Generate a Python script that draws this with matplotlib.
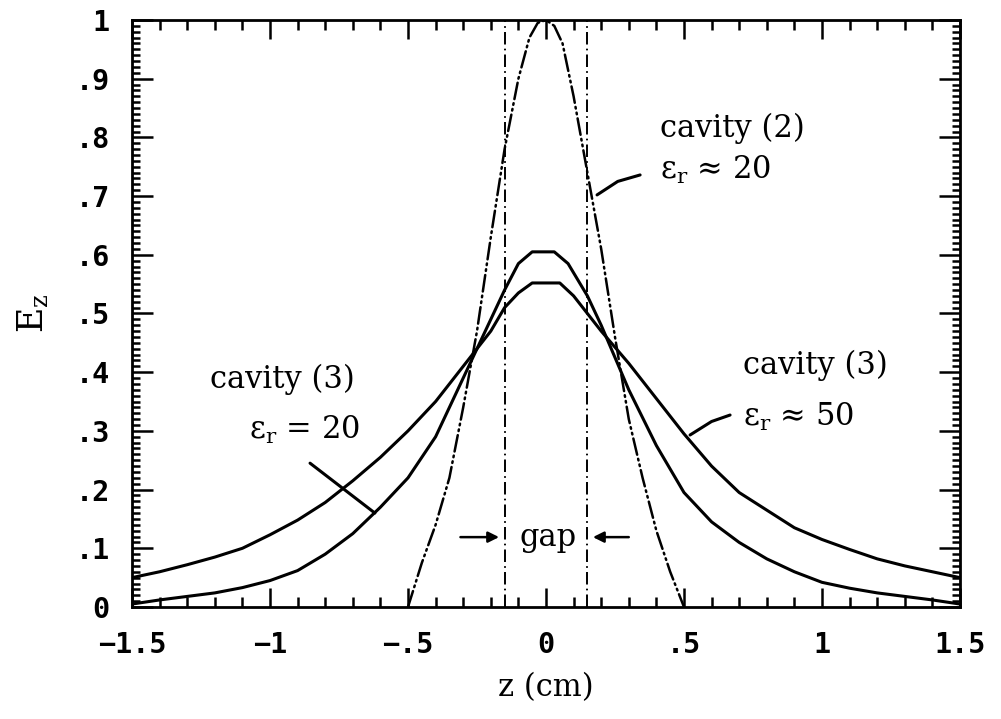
import numpy as np
import matplotlib
matplotlib.use("Agg")
import matplotlib.pyplot as plt
from matplotlib.ticker import MultipleLocator

# E_z along the axis for the three cavity geometries
z_cav3_er20 = [-1.5, -1.4, -1.3, -1.2, -1.1, -1.0, -0.9, -0.8, -0.7, -0.6, -0.5, -0.4, -0.3,
               -0.2, -0.15, -0.1, -0.05, 0.03, 0.08, 0.15, 0.2, 0.3, 0.4, 0.5, 0.6, 0.7,
               0.8, 0.9, 1.0, 1.1, 1.2, 1.3, 1.4, 1.5]
ez_cav3_er20 = [0.005, 0.012, 0.018, 0.024, 0.033, 0.045, 0.062, 0.09, 0.125, 0.17, 0.22,
                0.29, 0.39, 0.49, 0.54, 0.585, 0.605, 0.605, 0.585, 0.53, 0.48, 0.37, 0.275,
                0.195, 0.145, 0.11, 0.082, 0.06, 0.042, 0.032, 0.024, 0.018, 0.012, 0.005]

z_cav3_er50 = [-1.5, -1.4, -1.3, -1.2, -1.1, -1.0, -0.9, -0.8, -0.7, -0.6, -0.5, -0.4, -0.3,
               -0.2, -0.15, -0.1, -0.05, 0.05, 0.1, 0.15, 0.2, 0.3, 0.4, 0.5, 0.6, 0.7,
               0.8, 0.9, 1.0, 1.1, 1.2, 1.3, 1.4, 1.5]
ez_cav3_er50 = [0.05, 0.06, 0.072, 0.085, 0.1, 0.123, 0.148, 0.178, 0.215, 0.255, 0.3, 0.35,
                0.41, 0.47, 0.51, 0.535, 0.552, 0.552, 0.53, 0.5, 0.47, 0.415, 0.355, 0.295,
                0.24, 0.195, 0.165, 0.135, 0.115, 0.098, 0.082, 0.07, 0.06, 0.05]

z_cav2_er20 = [-0.5, -0.45, -0.4, -0.35, -0.3, -0.25, -0.2, -0.15, -0.1, -0.06, -0.03, 0.0,
               0.03, 0.06, 0.1, 0.15, 0.2, 0.25, 0.3, 0.35, 0.4, 0.45, 0.5]
ez_cav2_er20 = [0.0, 0.075, 0.14, 0.22, 0.34, 0.47, 0.63, 0.78, 0.9, 0.97, 0.995, 1.0,
                0.99, 0.96, 0.87, 0.74, 0.61, 0.46, 0.32, 0.22, 0.13, 0.06, 0.0]

gap_edges = [-0.15, 0.15]

x_ticks = [-1.5, -1.0, -0.5, 0.0, 0.5, 1.0, 1.5]
x_tick_labels = ["\u22121.5", "\u22121", "\u2212.5", "0", ".5", "1", "1.5"]
y_ticks = [0.0, 0.1, 0.2, 0.3, 0.4, 0.5, 0.6, 0.7, 0.8, 0.9, 1.0]
y_tick_labels = ["0", ".1", ".2", ".3", ".4", ".5", ".6", ".7", ".8", ".9", "1"]

SERIF = "DejaVu Serif"
TEXT_SIZE = 22
EPS_R = "$\\mathrm{\u03b5}_\\mathrm{r}$"


def main():
    plt.rcParams["mathtext.fontset"] = "dejavuserif"
    plt.rcParams["lines.scale_dashes"] = False

    fig = plt.figure(figsize=(10.01, 7.19), dpi=100)
    ax = fig.add_axes([0.1319, 0.1558, 0.8271, 0.8164])

    ax.plot(z_cav3_er50, ez_cav3_er50, color="black", lw=2.2, solid_joinstyle="round")
    ax.plot(z_cav3_er20, ez_cav3_er20, color="black", lw=2.2, solid_joinstyle="round")
    ax.plot(z_cav2_er20, ez_cav2_er20, color="black", lw=1.8,
            linestyle=(0, (12, 3, 1.2, 3, 1.2, 3)), dash_capstyle="round")

    for edge in gap_edges:
        ax.axvline(edge, color="black", lw=1.4, linestyle=(0, (9, 3, 1.2, 3)))

    ax.set_xlim(-1.5, 1.5)
    ax.set_ylim(0, 1)

    # tick marks on all four sides, pointing in
    ax.set_xticks(x_ticks)
    ax.set_xticklabels(x_tick_labels)
    ax.set_yticks(y_ticks)
    ax.set_yticklabels(y_tick_labels)
    ax.xaxis.set_minor_locator(MultipleLocator(0.1))
    ax.yaxis.set_minor_locator(MultipleLocator(0.01))
    ax.tick_params(axis="x", which="both", direction="in", top=True, bottom=True, width=1.8)
    ax.tick_params(axis="y", which="both", direction="in", left=True, right=True, width=1.8)
    ax.tick_params(axis="x", which="major", length=14, pad=17)
    ax.tick_params(axis="x", which="minor", length=7)
    ax.tick_params(axis="y", which="major", length=15, pad=16)
    ax.tick_params(axis="y", which="minor", length=6)
    for lab in ax.get_xticklabels() + ax.get_yticklabels():
        lab.set_fontfamily("DejaVu Sans Mono")
        lab.set_fontweight("bold")
        lab.set_fontsize(20.5)
    for spine in ax.spines.values():
        spine.set_linewidth(2.0)

    ax.set_xlabel("z (cm)", fontfamily=SERIF, fontsize=TEXT_SIZE, labelpad=10)
    ax.set_ylabel("$\\mathrm{E}_\\mathrm{z}$", fontsize=TEXT_SIZE + 3, labelpad=18)

    txt = dict(fontfamily=SERIF, fontsize=TEXT_SIZE, color="black")
    ax.text(0.413, 0.816, "cavity (2)", ha="left", va="center", **txt)
    ax.text(0.413, 0.744, EPS_R + " \u2248 20", ha="left", va="center", **txt)
    ax.text(-0.957, 0.387, "cavity (3)", ha="center", va="center", **txt)
    ax.text(-0.674, 0.302, EPS_R + " = 20", ha="right", va="center", **txt)
    ax.text(0.714, 0.412, "cavity (3)", ha="left", va="center", **txt)
    ax.text(0.714, 0.324, EPS_R + " \u2248 50", ha="left", va="center", **txt)
    ax.text(0.007, 0.119, "gap", ha="center", va="center", **txt)

    # leader lines from the labels to their curves
    ax.plot([-0.855, -0.620], [0.245, 0.160], color="black", lw=2.2, solid_capstyle="round")
    ax.plot([0.667, 0.60, 0.522], [0.327, 0.316, 0.293], color="black", lw=2.2,
            solid_capstyle="round")
    ax.plot([0.341, 0.26, 0.185], [0.736, 0.725, 0.702], color="black", lw=2.2,
            solid_capstyle="round")

    arrow = dict(arrowstyle="-|>", color="black", lw=1.8, mutation_scale=16)
    ax.annotate("", xy=(gap_edges[0] - 0.01, 0.119), xytext=(-0.32, 0.119), arrowprops=arrow)
    ax.annotate("", xy=(gap_edges[1] + 0.01, 0.119), xytext=(0.31, 0.119), arrowprops=arrow)

    fig.savefig("out.png", dpi=100)
    plt.close(fig)


if __name__ == "__main__":
    main()
